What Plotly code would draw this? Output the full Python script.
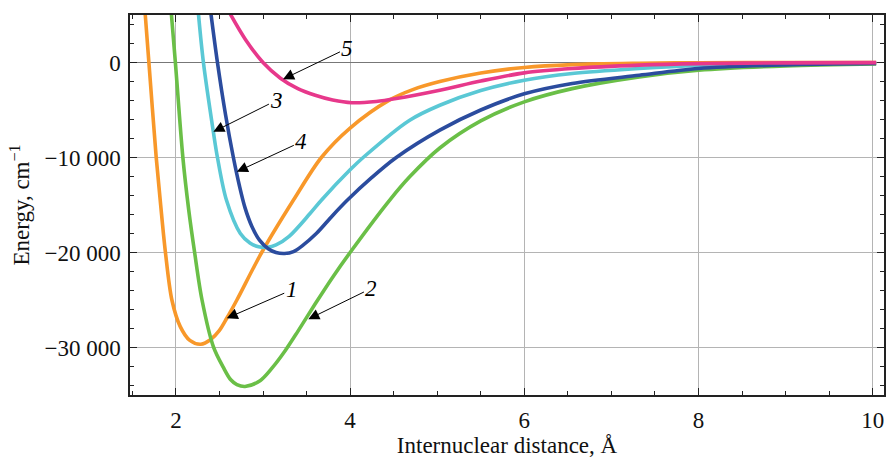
import plotly.graph_objects as go

# ---- data ----
x1 = [1.64, 1.69, 1.774, 1.825, 1.88, 1.954, 2.05, 2.16, 2.286, 2.40, 2.50, 2.584, 2.70, 2.985, 3.35, 3.67, 4.0, 4.45, 4.72, 5.03, 5.5, 6.0, 6.55, 7.32, 8.0, 9.0, 10.04]
y1 = [6000, 0, -10000, -15000, -20000, -25000, -27800, -29250, -29650, -29150, -28200, -26920, -25000, -20000, -14480, -10000, -6900, -3960, -2850, -2000, -1100, -520, -220, -80, -30, -10, 0]

x2 = [1.94, 1.994, 2.08, 2.147, 2.215, 2.30, 2.43, 2.545, 2.63, 2.70, 2.794, 2.966, 3.11, 3.25, 3.4, 3.6, 3.8, 4.0, 4.455, 4.684, 5.03, 5.5, 6.0, 6.55, 7.32, 8.0, 9.0, 10.04]
y2 = [6000, 0, -10000, -15500, -20000, -25000, -29900, -32100, -33400, -33900, -34100, -33500, -32100, -30400, -28300, -25400, -22600, -20000, -14480, -12030, -9000, -6150, -4140, -2750, -1510, -810, -350, -150]

x3 = [2.25, 2.316, 2.43, 2.477, 2.58, 2.74, 2.85, 2.95, 3.05, 3.15, 3.3, 3.54, 3.67, 4.0, 4.15, 4.68, 5.03, 5.5, 6.0, 6.55, 7.32, 8.0, 9.0, 10.04]
y3 = [6000, 0, -7300, -10000, -14480, -18000, -19000, -19400, -19450, -19200, -18300, -15900, -14500, -11300, -10000, -6100, -4500, -2950, -1860, -1160, -630, -300, -110, -40]

x4 = [2.39, 2.477, 2.57, 2.66, 2.73, 2.794, 2.87, 2.96, 3.06, 3.15, 3.25, 3.35, 3.45, 3.615, 3.8, 3.97, 4.25, 4.53, 5.03, 5.5, 6.0, 6.55, 7.32, 8.0, 9.0, 10.04]
y4 = [6000, 0, -5500, -10000, -13000, -15300, -17200, -18700, -19600, -20000, -20100, -19900, -19300, -17980, -16100, -14480, -12100, -10000, -7120, -5000, -3300, -2210, -1340, -630, -250, -100]

x5 = [2.6, 2.8, 3.0, 3.2, 3.4, 3.6, 3.8, 4.02, 4.3, 4.53, 5.03, 5.5, 6.0, 6.55, 7.32, 8.0, 9.0, 10.04]
y5 = [5500, 2400, 0, -1650, -2750, -3450, -3950, -4230, -4100, -3790, -2910, -1950, -1090, -630, -280, -120, -40, -10]

labels = ["1", "2", "3", "4", "5"]
label_x = [3.33, 4.245, 3.16, 3.44, 3.97]
label_y = [-23940, -23770, -3960, -8350, 1500]
tip_x = [2.584, 3.52, 2.43, 2.70, 3.23]
tip_y = [-26920, -27020, -7300, -11500, -1760]

x_ticks = [2, 4, 6, 8, 10]
y_ticks = [0, -10000, -20000, -30000]
y_ticktext = ["0", "−10 000", "−20 000", "−30 000"]

colors = ["#F8982A", "#6ABF47", "#5AC8D5", "#2B4C9E", "#E7388B"]
serif = "Liberation Serif, Times New Roman, serif"

fig = go.Figure()
for xs, ys, c in zip([x1, x2, x3, x4, x5], [y1, y2, y3, y4, y5], colors):
    fig.add_trace(go.Scatter(x=xs, y=ys, mode="lines",
                             line=dict(color=c, width=3.6, shape="spline", smoothing=0.9),
                             showlegend=False, hoverinfo="skip"))

for t, lx, ly, tx, ty in zip(labels, label_x, label_y, tip_x, tip_y):
    fig.add_annotation(x=tx, y=ty, ax=lx, ay=ly, axref="x", ayref="y",
                       text="<i>" + t + "</i>", showarrow=True,
                       arrowhead=2, arrowsize=2.2, arrowwidth=1.0, arrowcolor="black",
                       standoff=0, startstandoff=0,
                       font=dict(family=serif, size=23, color="black"))

axis_common = dict(showline=True, linecolor="#222", linewidth=1.5, mirror="allticks",
                   ticks="inside", ticklen=7, tickwidth=1.3, tickcolor="#222",
                   showgrid=True, gridcolor="#b4b4b4", gridwidth=1,
                   tickfont=dict(family=serif, size=23, color="#111"))

fig.update_xaxes(range=[1.473, 10.13], tickvals=x_ticks, ticklabelstandoff=4,
                 minor=dict(dtick=0.5, tick0=0, ticks="inside", ticklen=4, tickcolor="#222", showgrid=False),
                 title=dict(text="Internuclear distance, Å", standoff=6,
                            font=dict(family=serif, size=23, color="#111")),
                 zeroline=False, **axis_common)
fig.update_yaxes(range=[-35000, 5000], tickvals=y_ticks, ticktext=y_ticktext, ticklabelstandoff=3,
                 minor=dict(dtick=2000, tick0=0, ticks="inside", ticklen=4, tickcolor="#222", showgrid=False),
                 title=dict(text="Energy, cm<sup>−1</sup>", standoff=8,
                            font=dict(family=serif, size=23, color="#111")),
                 zeroline=True, zerolinecolor="#777", zerolinewidth=1.3, **axis_common)

fig.update_layout(width=887, height=458, margin=dict(l=130, r=1, t=15, b=63),
                  font=dict(family=serif, size=23, color="#111"),
                  plot_bgcolor="white", paper_bgcolor="white")

fig.write_html("out.html")
